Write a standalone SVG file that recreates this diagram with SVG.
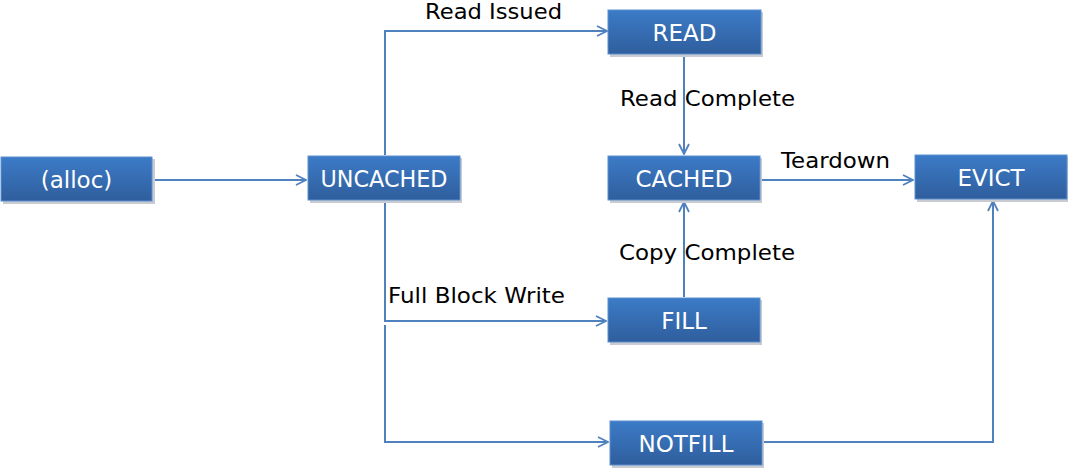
<svg xmlns="http://www.w3.org/2000/svg" width="1068" height="468" viewBox="0 0 1068 468">
<defs>
<linearGradient id="g" x1="0" y1="0" x2="0" y2="1">
<stop offset="0" stop-color="#3c7bc7"/>
<stop offset="1" stop-color="#2f5e9d"/>
</linearGradient>
<marker id="arr" viewBox="0 0 12 12" refX="11" refY="6" markerWidth="12" markerHeight="12" markerUnits="userSpaceOnUse" orient="auto">
<path d="M1,1 L11,6 L1,11" fill="none" stroke="#4f81bd" stroke-width="1.8"/>
</marker>
</defs>
<style>
.box{fill:url(#g);stroke:#5b8fd0;stroke-width:1}
.sh{fill:#c8ccd2}
.bt{font-family:"DejaVu Sans",sans-serif;font-size:23px;fill:#ffffff;text-anchor:middle}
.lb{font-family:"DejaVu Sans",sans-serif;font-size:21px;fill:#000000}
.ln{fill:none;stroke:#4f81bd;stroke-width:2}
</style>
<rect width="1068" height="468" fill="#ffffff"/>
<g id="connectors">
<path class="ln" d="M153 180 H306" marker-end="url(#arr)"/>
<path class="ln" d="M385 155 V31 H607" marker-end="url(#arr)"/>
<path class="ln" d="M684 55 V154" marker-end="url(#arr)"/>
<path class="ln" d="M761 180 H913" marker-end="url(#arr)"/>
<path class="ln" d="M684 297 V202" marker-end="url(#arr)"/>
<path class="ln" d="M385 201 V321 H606" marker-end="url(#arr)"/>
<path class="ln" d="M385 325 V442 H608" marker-end="url(#arr)"/>
<path class="ln" d="M763 442 H993 V201" marker-end="url(#arr)"/>
<text class="lb" x="425" y="19" textLength="137" lengthAdjust="spacingAndGlyphs">Read Issued</text>
<text class="lb" x="620" y="106" textLength="175" lengthAdjust="spacingAndGlyphs">Read Complete</text>
<text class="lb" x="781" y="168" textLength="109" lengthAdjust="spacingAndGlyphs">Teardown</text>
<text class="lb" x="619" y="260" textLength="176" lengthAdjust="spacingAndGlyphs">Copy Complete</text>
<text class="lb" x="388" y="303" textLength="177" lengthAdjust="spacingAndGlyphs">Full Block Write</text>
</g>
<g id="alloc">
<rect class="sh" x="3" y="159" width="152" height="45"/>
<rect class="box" x="1" y="157" width="151" height="44"/>
<text class="bt" x="76.5" y="188">(alloc)</text>
</g>
<g id="uncached">
<rect class="sh" x="310" y="158" width="152" height="45"/>
<rect class="box" x="308" y="156" width="152" height="44"/>
<text class="bt" x="384" y="187" textLength="127" lengthAdjust="spacingAndGlyphs">UNCACHED</text>
</g>
<g id="read">
<rect class="sh" x="610" y="12" width="153" height="45"/>
<rect class="box" x="608" y="10" width="153" height="44"/>
<text class="bt" x="684.5" y="41">READ</text>
</g>
<g id="cached">
<rect class="sh" x="610" y="158" width="152" height="45"/>
<rect class="box" x="608" y="156" width="152" height="44"/>
<text class="bt" x="684" y="187">CACHED</text>
</g>
<g id="evict">
<rect class="sh" x="917" y="157" width="152" height="45"/>
<rect class="box" x="915" y="155" width="152" height="44"/>
<text class="bt" x="991" y="186">EVICT</text>
</g>
<g id="fill">
<rect class="sh" x="610" y="300" width="152" height="45"/>
<rect class="box" x="608" y="298" width="152" height="44"/>
<text class="bt" x="684" y="329">FILL</text>
</g>
<g id="notfill">
<rect class="sh" x="612" y="423" width="152" height="45"/>
<rect class="box" x="610" y="421" width="152" height="44"/>
<text class="bt" x="686" y="452">NOTFILL</text>
</g>
</svg>
